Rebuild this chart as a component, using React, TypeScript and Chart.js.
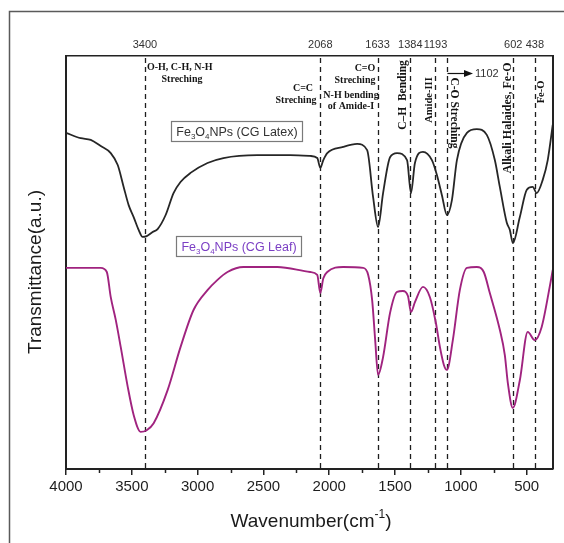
import { useEffect, useRef } from 'react';
import { Chart, registerables } from 'chart.js';

Chart.register(...registerables);

// ---- data ----
const X_TICKS = [4000, 3500, 3000, 2500, 2000, 1500, 1000, 500];
const MINOR_TICKS = [3750, 3250, 2750, 2250, 1750, 1250, 750];
const TOP_TICKS = [3400, 2068, 1633, 1384, 1193, 602, 438];
const PEAKS = [3400, 2068, 1633, 1384, 1193, 1102, 602, 438];

const LATEX_WAVE = [4000, 3888, 3812, 3736, 3660, 3607, 3562, 3524, 3486, 3448, 3418, 3387, 3342, 3304, 3243, 3183, 3130, 3054, 2925, 2804, 2546, 2296, 2145, 2091, 2068, 2045, 2015, 1894, 1788, 1712, 1667, 1629, 1591, 1538, 1485, 1409, 1379, 1349, 1288, 1220, 1182, 1144, 1106, 1068, 1030, 954, 879, 803, 742, 704, 651, 628, 605, 552, 499, 454, 424, 378, 340, 302];
const LATEX_T = [81.4, 80.1, 79.7, 78.2, 76.5, 73.6, 68.3, 63.9, 61.0, 57.9, 56.2, 56.4, 57.4, 58.1, 61.5, 66.8, 69.5, 71.7, 74.1, 75.3, 76.0, 76.0, 75.8, 75.3, 72.9, 74.8, 76.5, 78.0, 78.7, 77.2, 65.9, 58.6, 66.8, 75.5, 76.5, 74.8, 66.8, 74.1, 76.8, 74.8, 71.2, 66.3, 61.5, 65.1, 74.8, 81.4, 82.3, 80.9, 74.8, 68.3, 59.6, 57.9, 54.7, 61.0, 67.6, 68.3, 66.8, 70.0, 74.8, 83.3];

const LEAF_WAVE = [4000, 3736, 3690, 3660, 3622, 3584, 3531, 3486, 3433, 3387, 3334, 3228, 3130, 3031, 2925, 2849, 2773, 2652, 2394, 2145, 2091, 2068, 2045, 2015, 1894, 1742, 1704, 1674, 1651, 1629, 1591, 1538, 1485, 1440, 1402, 1379, 1349, 1288, 1235, 1190, 1159, 1129, 1106, 1061, 1008, 954, 879, 826, 780, 704, 666, 643, 605, 552, 492, 439, 386, 325, 302];
const LEAF_T = [48.7, 48.7, 47.7, 41.6, 36.1, 29.5, 19.9, 13.1, 9.0, 9.4, 11.1, 19.1, 29.5, 38.5, 43.3, 45.8, 47.7, 48.9, 48.9, 47.7, 47.0, 42.6, 46.2, 47.7, 48.9, 48.7, 47.0, 40.9, 31.2, 22.8, 27.1, 37.8, 42.9, 43.1, 41.9, 38.0, 40.4, 44.1, 41.6, 35.4, 29.5, 25.2, 24.0, 31.2, 43.3, 48.7, 48.9, 47.7, 42.6, 33.7, 27.6, 20.8, 14.8, 21.5, 33.2, 31.2, 34.4, 44.1, 48.2];

const LATEX_NAME = ['Fe', '3', 'O', '4', 'NPs (CG Latex)'];
const LEAF_NAME = ['Fe', '3', 'O', '4', 'NPs (CG Leaf)'];

const SANS = 'Arial, "Liberation Sans", sans-serif';
const SERIF = '"Times New Roman", "Liberation Serif", serif';

function drawName(ctx: CanvasRenderingContext2D, parts: string[], cx: number, cy: number, size: number, color: string) {
  const big = `${size}px ${SANS}`;
  const small = `${Math.round(size * 0.65)}px ${SANS}`;
  let w = 0;
  parts.forEach((p, i) => {
    ctx.font = i % 2 === 1 ? small : big;
    w += ctx.measureText(p).width;
  });
  const padX = 5;
  const h = 20;
  ctx.save();
  ctx.strokeStyle = '#7a7a7a';
  ctx.lineWidth = 1.2;
  ctx.strokeRect(Math.round(cx - w / 2 - padX) + 0.5, Math.round(cy - h / 2) + 0.5, Math.round(w + 2 * padX), h);
  ctx.fillStyle = color;
  ctx.textBaseline = 'alphabetic';
  ctx.textAlign = 'left';
  let x = cx - w / 2;
  const base = cy + size * 0.36;
  parts.forEach((p, i) => {
    const sub = i % 2 === 1;
    ctx.font = sub ? small : big;
    ctx.fillText(p, x, sub ? base + 3 : base);
    x += ctx.measureText(p).width;
  });
  ctx.restore();
}

function text(ctx: CanvasRenderingContext2D, s: string, x: number, y: number, opts: { size?: number; align?: CanvasTextAlign; rot?: number; font?: string; bold?: boolean; color?: string } = {}) {
  ctx.save();
  ctx.translate(x, y);
  if (opts.rot) ctx.rotate(opts.rot);
  ctx.font = `${opts.bold === false ? '' : 'bold '}${opts.size || 10}px ${opts.font || SERIF}`;
  ctx.fillStyle = opts.color || '#151515';
  ctx.textAlign = opts.align || 'center';
  ctx.textBaseline = 'middle';
  ctx.fillText(s, 0, 0);
  ctx.restore();
}

const ftirPlugin = {
  id: 'ftir',
  beforeDatasetsDraw(c: any) {
    const { ctx, chartArea: a } = c;
    const xs = c.scales.x;
    ctx.save();
    ctx.strokeStyle = '#1e1e1e';
    ctx.lineWidth = 1.3;
    ctx.setLineDash([5, 4]);
    PEAKS.forEach((p) => {
      const x = Math.round(xs.getPixelForValue(p)) + 0.5;
      ctx.beginPath();
      ctx.moveTo(x, a.top + 2);
      ctx.lineTo(x, a.bottom);
      ctx.stroke();
    });
    ctx.restore();
  },
  afterDraw(c: any) {
    const { ctx, chartArea: a } = c;
    const xs = c.scales.x;
    const px = (w: number) => xs.getPixelForValue(w);

    // outer frame
    ctx.save();
    ctx.strokeStyle = '#5a5a5a';
    ctx.lineWidth = 1.5;
    ctx.beginPath();
    ctx.moveTo(9.5, 543);
    ctx.lineTo(9.5, 11.5);
    ctx.lineTo(564, 11.5);
    ctx.stroke();

    // right plot border
    ctx.strokeStyle = '#222';
    ctx.lineWidth = 2;
    ctx.beginPath();
    ctx.moveTo(a.right, a.top);
    ctx.lineTo(a.right, a.bottom);
    ctx.stroke();

    // minor ticks
    ctx.lineWidth = 1.5;
    MINOR_TICKS.forEach((m) => {
      const x = Math.round(px(m)) + 0.5;
      ctx.beginPath();
      ctx.moveTo(x, a.bottom);
      ctx.lineTo(x, a.bottom + 4);
      ctx.stroke();
    });
    ctx.restore();

    // legend boxes
    drawName(ctx, LATEX_NAME, 237, 131, 12.5, '#333');
    drawName(ctx, LEAF_NAME, 239, 246, 12.5, '#7b3fc4');

    // annotations
    text(ctx, 'O-H, C-H, N-H', px(3400) + 2, 67, { align: 'left' });
    text(ctx, 'Streching', px(3400) + 37, 79);
    text(ctx, 'C=C', 303, 88);
    text(ctx, 'Streching', 296, 100);
    text(ctx, 'C=O', 365, 68);
    text(ctx, 'Streching', 355, 80);
    text(ctx, 'N-H bending', 351, 95);
    text(ctx, 'of Amide-I', 351, 106);
    text(ctx, 'C\u2013H  Bending', 403, 95, { rot: -Math.PI / 2, size: 11.5 });
    text(ctx, 'Amide-III', 429, 100, { rot: -Math.PI / 2, size: 10.5 });
    text(ctx, 'C-O Streching', 454, 113, { rot: Math.PI / 2, size: 11.5 });
    text(ctx, 'Alkali Halaides, Fe-O', 508, 118, { rot: -Math.PI / 2, size: 12 });
    text(ctx, 'Fe-O', 541, 92, { rot: -Math.PI / 2, size: 10.5 });

    // 1102 arrow
    const x0 = px(1102);
    ctx.save();
    ctx.strokeStyle = '#111';
    ctx.fillStyle = '#111';
    ctx.lineWidth = 1.2;
    ctx.beginPath();
    ctx.moveTo(x0, 73.5);
    ctx.lineTo(466, 73.5);
    ctx.stroke();
    ctx.beginPath();
    ctx.moveTo(473, 73.5);
    ctx.lineTo(464, 70);
    ctx.lineTo(464, 77);
    ctx.closePath();
    ctx.fill();
    ctx.restore();
    text(ctx, '1102', 475, 74, { align: 'left', font: SANS, bold: false, size: 11, color: '#333' });

    // axis titles
    ctx.save();
    ctx.fillStyle = '#1a1a1a';
    ctx.textBaseline = 'middle';
    ctx.font = `19px ${SANS}`;
    const t1 = 'Wavenumber(cm';
    const sup = '-1';
    const t2 = ')';
    const w1 = ctx.measureText(t1).width;
    const w3 = ctx.measureText(t2).width;
    ctx.font = `12px ${SANS}`;
    const w2 = ctx.measureText(sup).width;
    const total = w1 + w2 + w3;
    let x = 311 - total / 2;
    ctx.textAlign = 'left';
    ctx.font = `19px ${SANS}`;
    ctx.fillText(t1, x, 522);
    x += w1;
    ctx.font = `12px ${SANS}`;
    ctx.fillText(sup, x, 515);
    x += w2;
    ctx.font = `19px ${SANS}`;
    ctx.fillText(t2, x, 522);
    ctx.restore();
    text(ctx, 'Transmittance(a.u.)', 36, 272, { rot: -Math.PI / 2, font: SANS, bold: false, size: 19, color: '#1a1a1a' });
  },
};

export default function App() {
  const ref = useRef<HTMLCanvasElement>(null);
  useEffect(() => {
    if (!ref.current) return;
    const chart = new Chart(ref.current, {
      type: 'line',
      data: {
        datasets: [
          {
            label: 'Fe3O4NPs (CG Latex)',
            data: LATEX_WAVE.map((w, i) => ({ x: w, y: LATEX_T[i] })),
            borderColor: '#262626',
            borderWidth: 1.8,
            pointRadius: 0,
            cubicInterpolationMode: 'monotone',
            xAxisID: 'x',
            yAxisID: 'y',
          },
          {
            label: 'Fe3O4NPs (CG Leaf)',
            data: LEAF_WAVE.map((w, i) => ({ x: w, y: LEAF_T[i] })),
            borderColor: '#a0237f',
            borderWidth: 1.9,
            pointRadius: 0,
            cubicInterpolationMode: 'monotone',
            xAxisID: 'x',
            yAxisID: 'y',
          },
        ],
      },
      options: {
        animation: false,
        responsive: false,
        devicePixelRatio: 1,
        layout: { padding: { left: 0, right: 11, top: 0, bottom: 0 } },
        plugins: { legend: { display: false }, tooltip: { enabled: false } },
        scales: {
          x: {
            type: 'linear',
            position: 'bottom',
            reverse: true,
            min: 300,
            max: 4000,
            afterBuildTicks: (s: any) => {
              s.ticks = X_TICKS.map((v) => ({ value: v }));
            },
            afterFit: (s: any) => {
              s.height = 74;
            },
            ticks: {
              autoSkip: false,
              maxRotation: 0,
              font: { size: 15, family: SANS },
              color: '#1e1e1e',
              padding: 3,
              callback: (v: any) => String(v),
            },
            grid: { drawOnChartArea: false, drawTicks: true, tickLength: 6, color: '#222', lineWidth: 1.5 },
            border: { display: true, color: '#222', width: 2 },
          },
          x2: {
            type: 'linear',
            position: 'top',
            reverse: true,
            min: 300,
            max: 4000,
            afterBuildTicks: (s: any) => {
              s.ticks = TOP_TICKS.map((v) => ({ value: v }));
            },
            afterFit: (s: any) => {
              s.height = 56;
            },
            ticks: {
              autoSkip: false,
              maxRotation: 0,
              font: { size: 11, family: SANS },
              color: '#333',
              padding: 4,
              callback: (v: any) => String(v),
            },
            grid: { display: false, drawTicks: false },
            border: { display: true, color: '#222', width: 1.6 },
          },
          y: {
            type: 'linear',
            min: 0,
            max: 100,
            afterFit: (s: any) => {
              s.width = 66;
            },
            ticks: { display: false },
            grid: { display: false, drawTicks: false },
            border: { display: true, color: '#222', width: 2 },
          },
        },
      },
      plugins: [ftirPlugin],
    });
    return () => chart.destroy();
  }, []);
  return (
    <div style={{ position: 'fixed', left: 0, top: 0, width: 564, height: 543, background: '#fff' }}>
      <canvas ref={ref} width={564} height={543} style={{ width: 564, height: 543, display: 'block' }} />
    </div>
  );
}
